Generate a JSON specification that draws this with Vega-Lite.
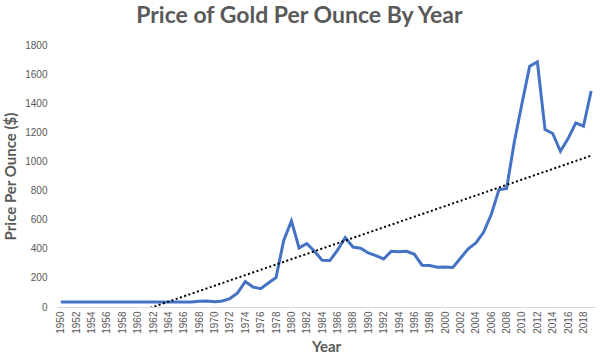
{
  "$schema": "https://vega.github.io/schema/vega-lite/v6.json",
  "autosize": {"type": "none"},
  "width": 538,
  "height": 262,
  "padding": {"left": 57, "top": 45, "right": 6, "bottom": 54},
  "background": "white",
  "title": {
    "text": "Price of Gold Per Ounce By Year",
    "font": "Lato",
    "fontSize": 23,
    "fontWeight": "bold",
    "color": "#595959",
    "anchor": "middle",
    "frame": "bounds",
    "offset": 12
  },
  "config": {"view": {"stroke": null}},
  "data": {"values": [
    {"year": 1950, "price": 35}, {"year": 1951, "price": 35}, {"year": 1952, "price": 35}, {"year": 1953, "price": 35},
    {"year": 1954, "price": 35}, {"year": 1955, "price": 35}, {"year": 1956, "price": 35}, {"year": 1957, "price": 35},
    {"year": 1958, "price": 35}, {"year": 1959, "price": 35}, {"year": 1960, "price": 35}, {"year": 1961, "price": 35},
    {"year": 1962, "price": 35}, {"year": 1963, "price": 35}, {"year": 1964, "price": 35}, {"year": 1965, "price": 35},
    {"year": 1966, "price": 35}, {"year": 1967, "price": 35}, {"year": 1968, "price": 39}, {"year": 1969, "price": 41},
    {"year": 1970, "price": 36}, {"year": 1971, "price": 41}, {"year": 1972, "price": 58}, {"year": 1973, "price": 97},
    {"year": 1974, "price": 175}, {"year": 1975, "price": 137}, {"year": 1976, "price": 126}, {"year": 1977, "price": 165},
    {"year": 1978, "price": 202}, {"year": 1979, "price": 458}, {"year": 1980, "price": 591}, {"year": 1981, "price": 406},
    {"year": 1982, "price": 436}, {"year": 1983, "price": 383}, {"year": 1984, "price": 321}, {"year": 1985, "price": 319},
    {"year": 1986, "price": 390}, {"year": 1987, "price": 477}, {"year": 1988, "price": 412}, {"year": 1989, "price": 404},
    {"year": 1990, "price": 371}, {"year": 1991, "price": 353}, {"year": 1992, "price": 330}, {"year": 1993, "price": 383},
    {"year": 1994, "price": 380}, {"year": 1995, "price": 383}, {"year": 1996, "price": 362}, {"year": 1997, "price": 287},
    {"year": 1998, "price": 285}, {"year": 1999, "price": 273}, {"year": 2000, "price": 275}, {"year": 2001, "price": 272},
    {"year": 2002, "price": 335}, {"year": 2003, "price": 400}, {"year": 2004, "price": 440}, {"year": 2005, "price": 513},
    {"year": 2006, "price": 635}, {"year": 2007, "price": 805}, {"year": 2008, "price": 814}, {"year": 2009, "price": 1134},
    {"year": 2010, "price": 1398}, {"year": 2011, "price": 1654}, {"year": 2012, "price": 1684}, {"year": 2013, "price": 1219},
    {"year": 2014, "price": 1192}, {"year": 2015, "price": 1070}, {"year": 2016, "price": 1157}, {"year": 2017, "price": 1265},
    {"year": 2018, "price": 1242}, {"year": 2019, "price": 1484}
  ]},
  "encoding": {
    "x": {
      "field": "year", "type": "quantitative",
      "scale": {"domain": [1949.5, 2019.5], "nice": false, "zero": false},
      "axis": {
        "title": "Year",
        "values": [1950,1952,1954,1956,1958,1960,1962,1964,1966,1968,1970,1972,1974,1976,1978,1980,1982,1984,1986,1988,1990,1992,1994,1996,1998,2000,2002,2004,2006,2008,2010,2012,2014,2016,2018],
        "format": "d",
        "labelAngle": -90,
        "labelFont": "Liberation Sans",
        "labelFontSize": 10,
        "labelColor": "#595959",
        "labelPadding": 4,
        "ticks": false,
        "grid": false,
        "domainColor": "#d9d9d9",
        "domainWidth": 1,
        "titleFont": "Lato",
        "titleFontSize": 15,
        "titleFontWeight": "bold",
        "titleColor": "#595959",
        "titlePadding": 6
      }
    },
    "y": {
      "field": "price", "type": "quantitative",
      "scale": {"domain": [0, 1800], "nice": false},
      "axis": {
        "title": "Price Per Ounce ($)",
        "values": [0,200,400,600,800,1000,1200,1400,1600,1800],
        "format": "d",
        "labelFont": "Liberation Sans",
        "labelFontSize": 10,
        "labelColor": "#595959",
        "labelPadding": 10,
        "ticks": false,
        "grid": false,
        "domain": false,
        "titleFont": "Lato",
        "titleFontSize": 15,
        "titleFontWeight": "bold",
        "titleColor": "#595959",
        "titlePadding": 6
      }
    }
  },
  "layer": [
    {
      "mark": {"type": "line", "color": "#4472C4", "strokeWidth": 3, "clip": true}
    },
    {
      "transform": [{"regression": "price", "on": "year", "extent": [1950, 2019]}],
      "mark": {"type": "line", "color": "#000000", "strokeWidth": 2, "strokeDash": [2, 2.5], "clip": true}
    }
  ]
}
